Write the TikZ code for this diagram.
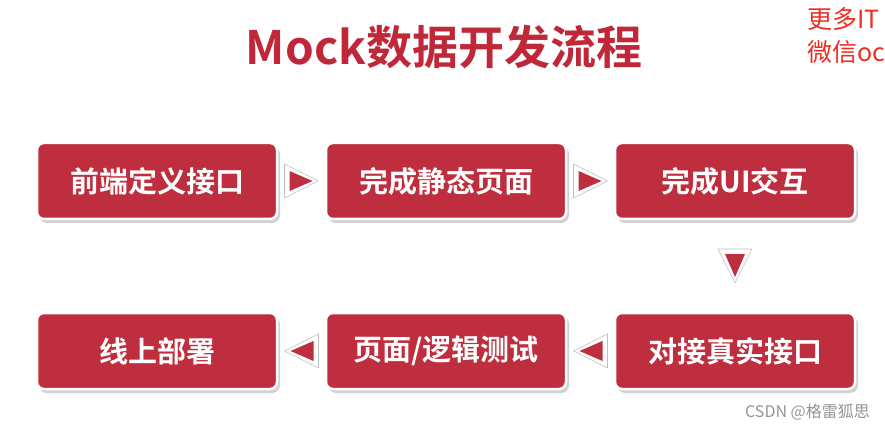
\documentclass[tikz,border=0pt]{standalone}
\usepackage{fontspec}
\usetikzlibrary{calc}
\setmainfont{Liberation Sans}
\newfontfamily\cjkb[BoldFont={Noto Sans CJK SC Bold}]{Noto Sans CJK SC}
\newfontfamily\cjk{Noto Sans CJK SC}
\definecolor{boxred}{RGB}{190,46,62}
\definecolor{titlered}{RGB}{192,40,58}
\definecolor{notered}{RGB}{240,45,35}
\tikzset{
  stepbox/.style={draw=white, line width=2.5pt, fill=boxred, rounded corners=7pt,
    minimum width=240pt, minimum height=76pt, inner sep=0pt,
    text=white, font=\cjkb\bfseries\fontsize{29}{31}\selectfont},
  boxshadow/.style={fill=black!40, opacity=0.45, rounded corners=8pt},
  triout/.style={fill=white, draw=black!25, line width=0.6pt, line join=round},
  triin/.style={fill=boxred}
}
\begin{document}
\begin{tikzpicture}[x=1pt,y=-1pt]
\useasboundingbox (0,0) rectangle (885,430);
\fill[white] (0,0) rectangle (885,430);
% title
\node[text=titlered, font=\cjkb\bfseries\fontsize{46}{50}\selectfont, anchor=center] (title) at (444,47) {Mock数据开发流程};
% top-right note (cut at the edge in the reference)
\node[anchor=north west, text=notered, font=\cjk\fontsize{25}{33}\selectfont, align=left, inner sep=0pt] (note) at (807,7) {更多IT\\微信oc};
% shadows
\foreach \x/\y in {37/143, 326/143, 615/143, 37/313, 326/313, 615/313}{
  \fill[boxshadow] (\x+2,\y+3) rectangle (\x+243,\y+80);
}
% boxes
\node[stepbox] (b1) at (157,181) {前端定义接口};
\node[stepbox] (b2) at (446,181) {完成静态页面};
\node[stepbox] (b3) at (735,181) {完成UI交互};
\node[stepbox] (b4) at (157,351) {线上部署};
\node[stepbox] (b5) at (446,351) {页面/逻辑测试};
\node[stepbox] (b6) at (735,351) {对接真实接口};
% coordinates for arrow triangles
\coordinate (a1) at ($(b1.east)!0.5!(b2.west)$);
\coordinate (a2) at ($(b2.east)!0.5!(b3.west)$);
\coordinate (a3) at ($(b3.south)!0.5!(b6.north)$);
\coordinate (a4) at ($(b6.west)!0.5!(b5.east)$);
\coordinate (a5) at ($(b5.west)!0.5!(b4.east)$);
% right arrows
\foreach \c in {a1,a2}{
  \draw[triout] ([shift={(-17,-17)}]\c) -- ([shift={(17,0)}]\c) -- ([shift={(-17,17)}]\c) -- cycle;
  \fill[triin] ([shift={(-12,-10)}]\c) -- ([shift={(11,0)}]\c) -- ([shift={(-12,10)}]\c) -- cycle;
}
% left arrows
\foreach \c in {a4,a5}{
  \draw[triout] ([shift={(17,-17)}]\c) -- ([shift={(-17,0)}]\c) -- ([shift={(17,17)}]\c) -- cycle;
  \fill[triin] ([shift={(12,-10)}]\c) -- ([shift={(-11,0)}]\c) -- ([shift={(12,10)}]\c) -- cycle;
}
% down arrow
\draw[triout] ([shift={(-17,-17)}]a3) -- ([shift={(17,-17)}]a3) -- ([shift={(0,17)}]a3) -- cycle;
\fill[triin] ([shift={(-10,-12)}]a3) -- ([shift={(10,-12)}]a3) -- ([shift={(0,11)}]a3) -- cycle;
% watermark
\node[anchor=east, text=black!42, font=\cjk\fontsize{16}{18}\selectfont, inner sep=0pt] (wm) at (870,412) {CSDN @格雷狐思};
\end{tikzpicture}
\end{document}
